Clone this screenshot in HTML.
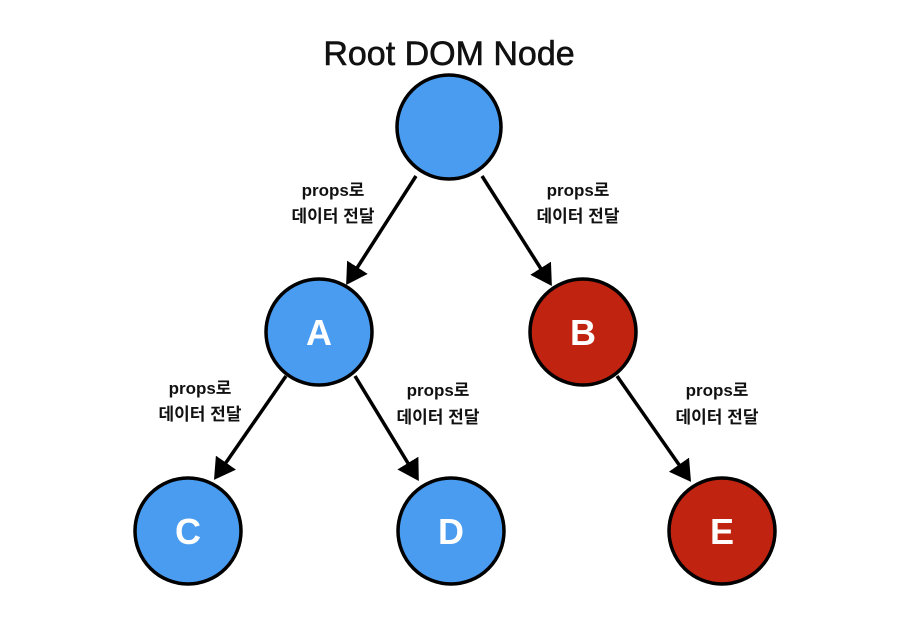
<!DOCTYPE html>
<html><head><meta charset="utf-8"><style>
html,body{margin:0;padding:0;background:#fff;}
svg{display:block}
.l{font-family:"Liberation Sans","Noto Sans CJK KR",sans-serif;font-size:17px;font-weight:bold;fill:#111;text-anchor:middle}
.n{font-family:"Liberation Sans",sans-serif;font-size:36px;font-weight:bold;fill:#fff;text-anchor:middle}
</style></head><body>
<svg width="901" height="619" viewBox="0 0 901 619" xmlns="http://www.w3.org/2000/svg">
<defs><marker id="a" markerWidth="7" markerHeight="7" refX="5" refY="3.5" orient="auto" markerUnits="strokeWidth"><path d="M0,0 L6,3.5 L0,7 z" fill="#000"/></marker></defs>
<text x="449" y="65" font-family="Liberation Sans, sans-serif" font-size="34" fill="#111" text-anchor="middle" stroke="#111" stroke-width="0.6">Root DOM Node</text>
<g stroke="#000" stroke-width="3.5" marker-end="url(#a)">
<line x1="416" y1="176" x2="348" y2="282"/>
<line x1="482" y1="176" x2="550" y2="283"/>
<line x1="286" y1="376" x2="216" y2="477"/>
<line x1="355" y1="376" x2="417" y2="478"/>
<line x1="617" y1="376" x2="689" y2="479"/>
</g>
<g stroke="#000" stroke-width="3.5">
<circle cx="449" cy="127" r="52" fill="#4a9cf0"/>
<circle cx="319" cy="332" r="53" fill="#4a9cf0"/>
<circle cx="583" cy="332" r="53" fill="#c02410"/>
<circle cx="188" cy="531" r="53" fill="#4a9cf0"/>
<circle cx="451" cy="531" r="53" fill="#4a9cf0"/>
<circle cx="722" cy="531" r="53" fill="#c02410"/>
</g>
<text class="n" x="319" y="345">A</text>
<text class="n" x="583" y="345">B</text>
<text class="n" x="188" y="544">C</text>
<text class="n" x="451" y="544">D</text>
<text class="n" x="722" y="544">E</text>
<text class="l" x="333" y="196">props로</text><text class="l" x="333" y="222">데이터 전달</text>
<text class="l" x="578" y="196">props로</text><text class="l" x="578" y="222">데이터 전달</text>
<text class="l" x="200" y="394">props로</text><text class="l" x="200" y="420">데이터 전달</text>
<text class="l" x="438" y="396">props로</text><text class="l" x="438" y="423">데이터 전달</text>
<text class="l" x="717" y="396">props로</text><text class="l" x="717" y="423">데이터 전달</text>
</svg>
</body></html>
